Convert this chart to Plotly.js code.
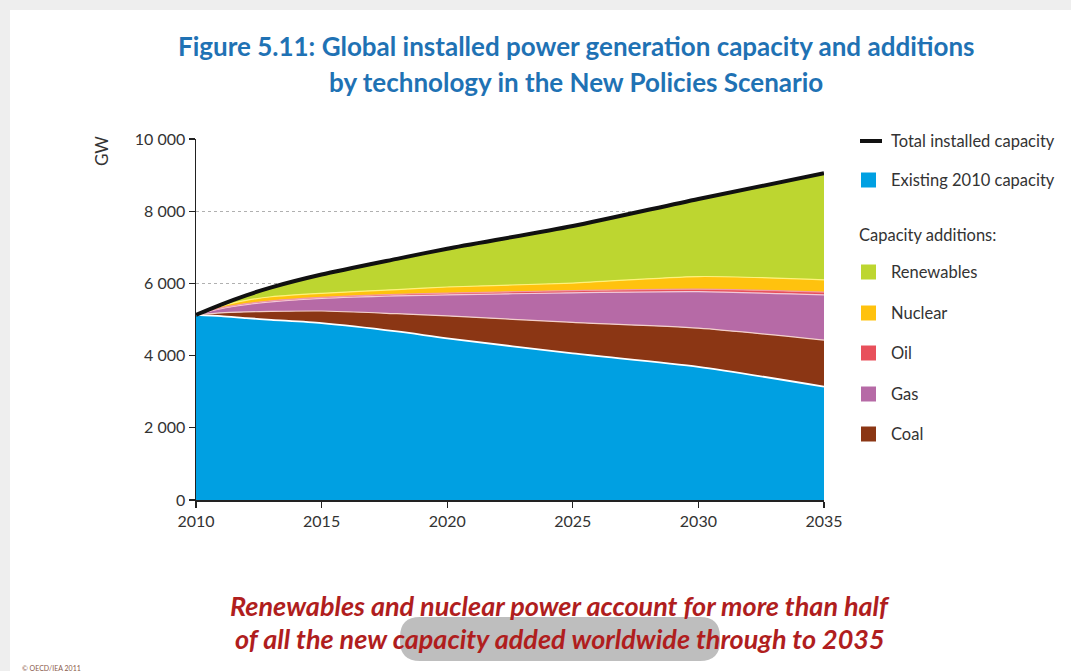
<!DOCTYPE html>
<html>
<head>
<meta charset="utf-8">
<script src="https://cdn.plot.ly/plotly-3.0.1.min.js"></script>
<style>
  html, body { margin: 0; padding: 0; background: #eeeeee; }
  #chart { width: 1071px; height: 671px; }
</style>
</head>
<body>
<div id="chart"></div>
<script>
// Global installed capacity (GW), New Policies Scenario
const years      = [2010, 2011, 2012, 2013, 2015, 2018, 2020, 2025, 2030, 2035];
const existing   = [5130, 5095, 5040, 4990, 4900, 4670, 4480, 4060, 3690, 3140];
const coal       = [0, 90, 170, 235, 335, 490, 620, 860, 1070, 1290];
const gas        = [0, 115, 200, 265, 350, 495, 580, 820, 1010, 1250];
const oil        = [0, 20, 30, 30, 30, 45, 50, 60, 70, 80];
const nuclear    = [0, 50, 90, 110, 110, 130, 170, 210, 350, 340];
const renewables = [0, 45, 140, 260, 520, 850, 1060, 1580, 2150, 2950];

const xTicks = [2010, 2015, 2020, 2025, 2030, 2035];

const colors = {
  existing: '#00a0e2',
  coal: '#8b3614',
  gas: '#b66aa6',
  oil: '#e8505b',
  nuclear: '#ffc20e',
  renewables: '#bdd630'
};

const additionNames = ['Renewables', 'Nuclear', 'Oil', 'Gas', 'Coal'];
const additionKeys  = ['renewables', 'nuclear', 'oil', 'gas', 'coal'];

const total = years.map((_, i) =>
  existing[i] + coal[i] + gas[i] + oil[i] + nuclear[i] + renewables[i]);

const FONT = 'Lato, "Open Sans", sans-serif';

// plot area in pixels, used to place text and legend around it
const PL = 196, PR = 824, PT = 139, PB = 500;
const xp = px => (px - PL) / (PR - PL);
const yp = py => (PB - py) / (PB - PT);

const SMOOTH = 0.7;

function layer(name, y, color, lineColor, lineWidth) {
  return {
    type: 'scatter', mode: 'lines', name: name,
    x: years, y: y, stackgroup: 'cap',
    fillcolor: color,
    line: { color: lineColor, width: lineWidth, shape: 'spline', smoothing: SMOOTH },
    showlegend: false, hoverinfo: 'skip'
  };
}

const traces = [
  layer('Existing 2010 capacity', existing, colors.existing, '#ffffff', 1.8),
  layer('Coal', coal, colors.coal, '#f3d0cc', 1.2),
  layer('Gas', gas, colors.gas, '#f2c9d8', 1.2),
  layer('Oil', oil, colors.oil, '#f29aa4', 1.2),
  layer('Nuclear', nuclear, colors.nuclear, '#fff27a', 1.2),
  layer('Renewables', renewables, colors.renewables, colors.renewables, 0.5),
  {
    type: 'scatter', mode: 'lines', name: 'Total installed capacity',
    x: years, y: total,
    line: { color: '#111111', width: 4, shape: 'spline', smoothing: SMOOTH },
    showlegend: false, hoverinfo: 'skip'
  }
];

const shapes = [];
const annotations = [];

// white page panel with a thin grey margin on the top and left
shapes.push({
  type: 'rect', xref: 'paper', yref: 'paper', layer: 'below',
  x0: xp(10), x1: xp(1071), y0: yp(10), y1: yp(671),
  fillcolor: '#ffffff', line: { width: 0 }
});

// title
const titleFont = { family: FONT, size: 26, color: '#1f72b4' };
annotations.push({
  xref: 'paper', yref: 'paper', x: xp(576), y: yp(46),
  xanchor: 'center', yanchor: 'middle', showarrow: false,
  text: '<b>Figure 5.11: Global installed power generation capacity and additions</b>',
  font: titleFont
});
annotations.push({
  xref: 'paper', yref: 'paper', x: xp(576), y: yp(82),
  xanchor: 'center', yanchor: 'middle', showarrow: false,
  text: '<b>by technology in the New Policies Scenario</b>',
  font: titleFont
});

// unit label
annotations.push({
  xref: 'paper', yref: 'paper', x: xp(101), y: yp(151),
  xanchor: 'center', yanchor: 'middle', showarrow: false, textangle: -90,
  text: 'GW', font: { family: FONT, size: 17, color: '#333333' }
});

// legend
const legendFont = { family: FONT, size: 16.5, color: '#333333' };
const LX0 = 861, LX1 = 876, LTX = 889;
shapes.push({
  type: 'line', xref: 'paper', yref: 'paper',
  x0: xp(860), x1: xp(882), y0: yp(141), y1: yp(141),
  line: { color: '#111111', width: 4 }
});
annotations.push({
  xref: 'paper', yref: 'paper', x: xp(LTX), y: yp(141),
  xanchor: 'left', yanchor: 'middle', showarrow: false,
  text: 'Total installed capacity', font: legendFont
});
function legendSwatch(cy, color, label) {
  shapes.push({
    type: 'rect', xref: 'paper', yref: 'paper',
    x0: xp(LX0), x1: xp(LX1), y0: yp(cy - 7.5), y1: yp(cy + 7.5),
    fillcolor: color, line: { width: 0 }
  });
  annotations.push({
    xref: 'paper', yref: 'paper', x: xp(LTX), y: yp(cy),
    xanchor: 'left', yanchor: 'middle', showarrow: false,
    text: label, font: legendFont
  });
}
legendSwatch(180, colors.existing, 'Existing 2010 capacity');
annotations.push({
  xref: 'paper', yref: 'paper', x: xp(857), y: yp(235),
  xanchor: 'left', yanchor: 'middle', showarrow: false,
  text: 'Capacity additions:', font: legendFont
});
const legendRows = [272, 313, 353, 394, 434];
additionNames.forEach((n, i) => legendSwatch(legendRows[i], colors[additionKeys[i]], n));

// key message
const msgFont = { family: FONT, size: 27, color: '#b01e1e' };
annotations.push({
  xref: 'paper', yref: 'paper', x: xp(560), y: yp(605),
  xanchor: 'center', yanchor: 'middle', showarrow: false,
  text: '<b><i>Renewables and nuclear power account for more than half</i></b>', font: msgFont
});
annotations.push({
  xref: 'paper', yref: 'paper', x: xp(560), y: yp(638),
  xanchor: 'center', yanchor: 'middle', showarrow: false,
  text: '<b><i>of all the new capacity added worldwide through to 2035</i></b>', font: msgFont
});

// rounded grey player pill over the message
(function () {
  const x0 = 400, x1 = 720, y0 = 617, y1 = 661, r = 20;
  const X = v => xp(v), Y = v => yp(v);
  const d = `M ${X(x0 + r)},${Y(y0)} L ${X(x1 - r)},${Y(y0)} ` +
    `Q ${X(x1)},${Y(y0)} ${X(x1)},${Y(y0 + r)} L ${X(x1)},${Y(y1 - r)} ` +
    `Q ${X(x1)},${Y(y1)} ${X(x1 - r)},${Y(y1)} L ${X(x0 + r)},${Y(y1)} ` +
    `Q ${X(x0)},${Y(y1)} ${X(x0)},${Y(y1 - r)} L ${X(x0)},${Y(y0 + r)} ` +
    `Q ${X(x0)},${Y(y0)} ${X(x0 + r)},${Y(y0)} Z`;
  shapes.push({
    type: 'path', xref: 'paper', yref: 'paper', layer: 'above', path: d,
    fillcolor: 'rgba(125,125,125,0.5)', line: { width: 0 }
  });
})();

// copyright
annotations.push({
  xref: 'paper', yref: 'paper', x: xp(20), y: yp(668),
  xanchor: 'left', yanchor: 'middle', showarrow: false,
  text: '© OECD/IEA 2011', font: { family: FONT, size: 7, color: '#8a5a4a' }
});

const layout = {
  width: 1071, height: 671,
  margin: { l: PL, r: 1071 - PR, t: PT, b: 671 - PB, pad: 0 },
  paper_bgcolor: '#eeeeee',
  plot_bgcolor: 'rgba(0,0,0,0)',
  separators: '. ',
  showlegend: false,
  hovermode: false,
  xaxis: {
    range: [2010, 2035], tickvals: xTicks, ticktext: xTicks.map(String),
    ticks: 'outside', ticklen: 6, tickwidth: 1.2, tickcolor: '#222222',
    showline: true, linecolor: '#222222', linewidth: 1.5,
    showgrid: false, zeroline: false,
    tickfont: { family: FONT, size: 16, color: '#333333' }
  },
  yaxis: {
    range: [0, 10000], dtick: 2000, tick0: 0,
    exponentformat: 'none', separatethousands: true, tickformat: ',d',
    ticks: 'outside', ticklen: 6, tickwidth: 1.2, tickcolor: '#222222',
    showline: true, linecolor: '#222222', linewidth: 1.5,
    showgrid: true, gridcolor: '#b0b0b0', griddash: 'dot', gridwidth: 1,
    zeroline: false,
    tickfont: { family: FONT, size: 16, color: '#333333' }
  },
  shapes: shapes,
  annotations: annotations
};

Plotly.newPlot('chart', traces, layout, { staticPlot: true, displayModeBar: false });
</script>
</body>
</html>
